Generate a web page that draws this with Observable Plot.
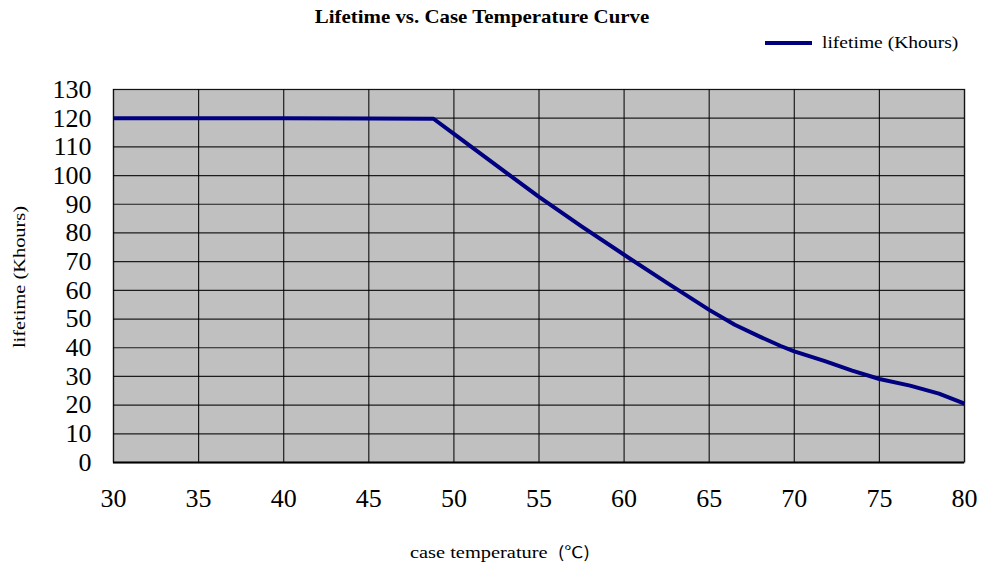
<!DOCTYPE html>
<html>
<head>
<meta charset="utf-8">
<script src="https://cdn.jsdelivr.net/npm/d3@7"></script>
<script src="https://cdn.jsdelivr.net/npm/@observablehq/plot@0.6"></script>
<style>
  html, body { margin: 0; padding: 0; background: #fff; }
  #wrap { position: relative; width: 984px; height: 567px; overflow: hidden; font-family: "Liberation Serif", "Times New Roman", serif; }
  .abs { position: absolute; white-space: pre; color: #000; }
  #title { left: 482px; top: 17px; font-weight: bold; font-size: 19px; transform: translate(-50%, -50%) scaleX(1.1); }
  #legend { left: 765px; top: 33px; display: flex; align-items: center; }
  #legend .sw { width: 47px; height: 4px; background: #000080; margin-right: 10px; }
  #legendText { display: inline-block; font-size: 17px; transform-origin: left center; transform: scaleX(1.15); }
  #ylabel { left: 20px; top: 277px; font-size: 17px; transform: translate(-50%, -50%) rotate(-90deg) scaleX(1.2); }
  #xlabel { left: 500px; top: 551px; font-size: 17px; transform: translate(-50%, -50%) scaleX(1.2); }
  #xlabel .deg { font-family: "Noto Sans CJK SC", serif; font-size: 16px; }
</style>
</head>
<body>
<div id="wrap">
  <div id="chart"></div>
  <div class="abs" id="title"></div>
  <div class="abs" id="legend"><div class="sw"></div><span id="legendText"></span></div>
  <div class="abs" id="ylabel"></div>
  <div class="abs" id="xlabel"><span id="xlabelMain"></span><span class="deg" id="xlabelUnit"></span></div>
</div>
<script>
// Data
const temperature = [30, 35, 40, 45, 48.8, 50, 55, 57.5, 60, 62.5, 65, 66.5, 68, 69.2, 70, 71.8, 73.4, 75, 76.8, 78.5, 80];
const lifetime    = [120, 120, 120, 119.9, 119.8, 114.5, 92.6, 82.3, 72.4, 62.7, 53.2, 48.0, 43.8, 40.6, 38.7, 35.3, 32, 29.1, 26.8, 24, 20.5];
const xTicks = [30, 35, 40, 45, 50, 55, 60, 65, 70, 75, 80];
const yTicks = [0, 10, 20, 30, 40, 50, 60, 70, 80, 90, 100, 110, 120, 130];
const titleText = "Lifetime vs. Case Temperature Curve";
const seriesName = "lifetime (Khours)";
const xLabelText = "case temperature  ";
const xLabelUnit = "(\u2103)";
const yLabelText = "lifetime (Khours)";

const data = temperature.map((t, i) => ({t, v: lifetime[i]}));

document.getElementById("title").textContent = titleText;
document.getElementById("legendText").textContent = seriesName;
document.getElementById("xlabelMain").textContent = xLabelText;
document.getElementById("xlabelUnit").textContent = xLabelUnit;
document.getElementById("ylabel").textContent = yLabelText;

const chart = Plot.plot({
  width: 984,
  height: 567,
  marginLeft: 113,
  marginRight: 20,
  marginTop: 89,
  marginBottom: 105,
  style: {background: "transparent", fontFamily: "'Liberation Serif', 'Times New Roman', serif", color: "#000"},
  x: {domain: [30, 80], ticks: xTicks, label: null},
  y: {domain: [0, 130], ticks: yTicks, label: null},
  marks: [
    Plot.frame({fill: "#c0c0c0", stroke: "#808080", strokeWidth: 1.5}),
    Plot.gridX(xTicks, {stroke: "#000", strokeOpacity: 0.85, strokeWidth: 1.2}),
    Plot.gridY(yTicks, {stroke: "#000", strokeOpacity: 0.85, strokeWidth: 1.2}),
    Plot.ruleY([0], {stroke: "#000", strokeWidth: 2}),
    Plot.axisX({ticks: xTicks, tickSize: 0, tickPadding: 26, fontSize: 26, label: null, tickFormat: d => String(d)}),
    Plot.axisY({ticks: yTicks, tickSize: 0, tickPadding: 22, fontSize: 26, label: null, tickFormat: d => String(d)}),
    Plot.line(data, {x: "t", y: "v", stroke: "#000080", strokeWidth: 4, strokeLinejoin: "round", strokeLinecap: "butt"})
  ]
});
document.getElementById("chart").appendChild(chart);
</script>
</body>
</html>
